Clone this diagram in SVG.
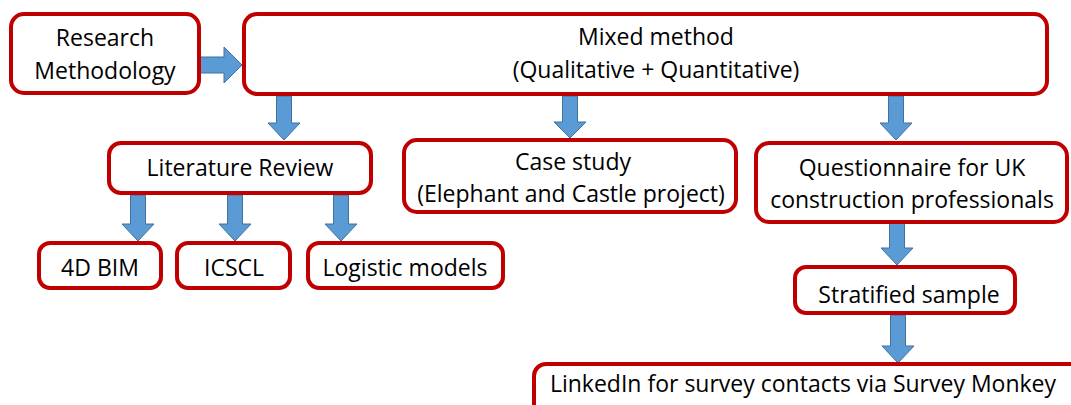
<svg xmlns="http://www.w3.org/2000/svg" width="1071" height="405" viewBox="0 0 1071 405">
<style>
.box{fill:#fff;stroke:#C00000;stroke-width:4}
.t{font-family:"Open Sans","Liberation Sans",sans-serif;font-size:23px;fill:#000;text-anchor:middle}
.arr{fill:#5B9BD5;stroke:#41719C;stroke-width:1}
</style>
<rect width="1071" height="405" fill="#fff"/>
<g id="connectors">
<polygon class="arr" points="200,57 224,57 224,47 242,65 224,83 224,73 200,73"/>
<polygon class="arr" points="276.5,96 291.5,96 291.5,123 300,123 284,140 268,123 276.5,123"/>
<polygon class="arr" points="562.5,96 577.5,96 577.5,122 586,122 570,138 554,122 562.5,122"/>
<polygon class="arr" points="888.5,96 903.5,96 903.5,123 912,123 896,140 880,123 888.5,123"/>
<polygon class="arr" points="130.5,195 145.5,195 145.5,224 154,224 138,241 122,224 130.5,224"/>
<polygon class="arr" points="227.5,195 242.5,195 242.5,224 251,224 235,241 219,224 227.5,224"/>
<polygon class="arr" points="333.5,195 348.5,195 348.5,224 357,224 341,241 325,224 333.5,224"/>
<polygon class="arr" points="889.5,222 904.5,222 904.5,248 913,248 897,265 881,248 889.5,248"/>
<polygon class="arr" points="890.5,315 905.5,315 905.5,346 914,346 898,363 882,346 890.5,346"/>
</g>
<g id="research-methodology">
<rect class="box" x="11" y="14" width="188" height="79" rx="13"/>
<text class="t" x="105" y="46">Research</text>
<text class="t" x="105" y="79">Methodology</text>
</g>
<g id="mixed-method">
<rect class="box" x="244" y="14" width="803" height="80" rx="13"/>
<text class="t" x="656" y="45">Mixed method</text>
<text class="t" x="656" y="78">(Qualitative + Quantitative)</text>
</g>
<g id="literature-review">
<rect class="box" x="109" y="143" width="262" height="50" rx="12"/>
<text class="t" x="240" y="176">Literature Review</text>
</g>
<g id="case-study">
<rect class="box" x="404" y="140" width="332" height="72" rx="13"/>
<text class="t" x="573" y="170">Case study</text>
<text class="t" x="571" y="202">(Elephant and Castle project)</text>
</g>
<g id="questionnaire">
<rect class="box" x="756" y="143" width="311" height="79" rx="13"/>
<text class="t" x="912" y="176">Questionnaire for UK</text>
<text class="t" x="912" y="208">construction professionals</text>
</g>
<g id="bim-4d">
<rect class="box" x="39" y="243" width="122" height="45" rx="11"/>
<text class="t" x="100" y="276">4D BIM</text>
</g>
<g id="icscl">
<rect class="box" x="177" y="243" width="113" height="45" rx="11"/>
<text class="t" x="234" y="276">ICSCL</text>
</g>
<g id="logistic-models">
<rect class="box" x="308" y="243" width="195" height="45" rx="11"/>
<text class="t" x="405" y="276">Logistic models</text>
</g>
<g id="stratified-sample">
<rect class="box" x="795" y="267" width="220" height="46" rx="11"/>
<text class="t" x="909" y="303">Stratified sample</text>
</g>
<g id="linkedin">
<rect class="box" x="534" y="364" width="560" height="60" rx="12"/>
<text class="t" x="803" y="392">LinkedIn for survey contacts via Survey Monkey</text>
</g>
</svg>
